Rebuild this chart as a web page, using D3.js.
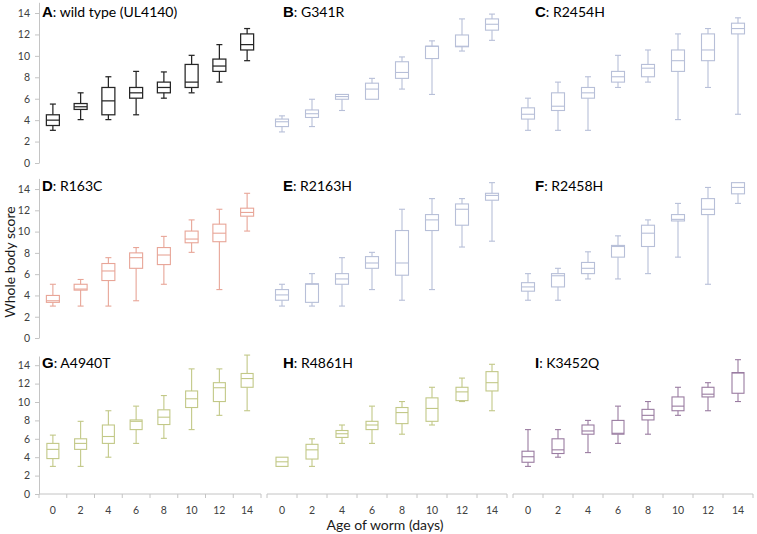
<!DOCTYPE html>
<html><head><meta charset="utf-8">
<script src="https://cdn.jsdelivr.net/npm/d3@7"></script>
<style>
html,body{margin:0;padding:0;background:#fff;}
svg{display:block;}
text{font-family:Lato,"Open Sans",sans-serif;}
</style></head>
<body><svg id="chart" width="757" height="534"></svg>
<script>
const days = [0, 2, 4, 6, 8, 10, 12, 14];
const yTicks = [0, 2, 4, 6, 8, 10, 12, 14];
const panelLetters = ["A", "B", "C", "D", "E", "F", "G", "H", "I"];
const panelNames = ["wild type (UL4140)", "G341R", "R2454H", "R163C", "R2163H", "R2458H", "A4940T", "R4861H", "K3452Q"];
const panelColors = ["#262626", "#b7bfd8", "#b7bfd8", "#e8a597", "#b7bfd8", "#b7bfd8", "#c2c887", "#c2c887", "#9a7ca1"];
// each entry: [lower whisker, Q1, median, Q3, upper whisker]
const statsA = [[3.05,3.5,4,4.5,5.5],[4.05,5,5.25,5.55,6.55],[4.05,4.5,5.8,7.05,8.05],[4.5,6.05,6.55,7.05,8.55],[6.05,6.55,7.05,7.55,8.5],[6.55,7.05,7.55,9.2,10.05],[7.55,8.55,9.05,9.7,11.05],[9.55,10.55,11.05,12.05,12.55]];
const statsB = [[2.9,3.4,3.85,4.1,4.4],[3.4,4.25,4.6,4.95,5.95],[4.9,5.95,6.2,6.4,6.4],[5.95,5.95,6.9,7.45,7.9],[6.9,7.9,8.45,9.45,9.9],[6.4,9.75,10.9,10.9,11.4],[10.45,10.85,10.9,11.95,13.45],[11.45,12.4,12.95,13.45,13.9]];
const statsC = [[3.05,4.1,4.55,5.15,6.05],[3.05,4.9,5.3,6.55,7.55],[3.05,6.05,6.55,7.05,8.05],[7.05,7.55,8.05,8.55,10.05],[7.55,8.05,8.85,9.2,10.55],[4.05,8.55,9.55,10.55,12.05],[7.05,9.55,10.55,12.05,12.55],[4.55,12.05,12.55,13.05,13.55]];
const statsD = [[3,3.35,3.5,4,5.05],[3,4.5,4.6,5.05,5.5],[3,5.4,6.3,7,7.55],[3.5,6.55,7.55,8,8.5],[5.05,6.9,7.8,8.5,9.55],[8.05,8.95,9.3,10.05,11.1],[4.55,9.05,9.85,10.7,12.1],[10.05,11.45,11.8,12.2,13.6]];
const statsE = [[3,3.55,4.05,4.55,5.05],[3,3.35,5.05,5.1,6.05],[3,5.05,5.55,6.05,7.55],[4.55,6.55,7.05,7.65,8.05],[3.55,5.9,7.05,10.1,12.1],[4.55,10.1,11.1,11.6,13.1],[8.55,10.6,12.1,12.6,13.1],[9.1,12.95,13.4,13.6,14.6]];
const statsF = [[3.55,4.4,4.8,5.2,6.05],[3.55,4.8,5.85,6.05,6.55],[5.55,6.05,6.55,7.1,8.1],[5.55,7.6,8.6,8.7,9.6],[6.05,8.6,9.85,10.6,11.1],[7.6,11,11.15,11.6,12.65],[5.05,11.6,12.1,13.1,14.15],[12.65,13.55,14.15,14.6,14.6]];
const statsG = [[3,3.85,4.85,5.5,6.4],[3,4.85,5.5,6,7.9],[4,5.5,6.25,7.5,9.05],[5.5,7,7.9,8.05,9.55],[6.05,7.55,8.35,9.15,10.7],[7,9.4,10.35,11.2,13.6],[8.55,10.05,11.55,12.1,13.6],[9.05,11.6,12.55,13.1,15.1]];
const statsH = [[3,3,3.5,4,4],[3,3.8,4.8,5.4,6],[5.5,6.15,6.55,6.9,7.5],[5.5,7,7.5,7.9,9.55],[6.5,7.65,8.85,9.4,10.05],[7.5,7.9,9.3,10.45,11.6],[10.05,10.15,11.1,11.6,12.6],[9.05,11.2,12.1,13.3,14.1]];
const statsI = [[3,3.45,4.05,4.65,7],[4,4.4,4.8,6,7],[4.5,6.5,6.85,7.5,8],[5.5,6.5,6.6,8,9.55],[6.5,8.05,8.55,9.2,10.05],[8.55,9.05,9.55,10.55,11.6],[9.05,10.55,10.85,11.6,12.1],[10.05,10.95,13.15,13.2,14.6]];
const allStats = [statsA, statsB, statsC, statsD, statsE, statsF, statsG, statsH, statsI];

const svg = d3.select("#chart");
const colRanges = [[39, 261], [267, 507], [513, 753]];
const rowRanges = [[163, 2.3], [338, 178.4], [494, 356]];
const boxW = [13, 13, 12];
const capW = 6;

for (let p = 0; p < 9; p++) {
  const r = Math.floor(p / 3), c = p % 3;
  const x = d3.scaleBand().domain(days).range(colRanges[c]).paddingInner(0).paddingOuter(0);
  const y = d3.scaleLinear().domain([0, 15]).range(rowRanges[r]);
  const g = svg.append("g");
  const col = panelColors[p];
  const sw = p === 0 ? 1.25 : 1.1;

  if (c === 0) {
    const ax = g.append("g").attr("transform", `translate(${colRanges[c][0]},0)`)
      .call(d3.axisLeft(y).tickValues(yTicks).tickSize(4).tickSizeOuter(0).tickPadding(5).tickFormat(d3.format("d")));
    ax.select(".domain").attr("stroke", "#c4c4c4");
    ax.selectAll(".tick line").attr("stroke", "#c4c4c4");
    ax.selectAll("text").attr("fill", "#404040").style("font-size", "10.5px").style("font-family", "Lato, sans-serif");
  }
  if (r === 2) {
    const y0 = y(0);
    g.append("line").attr("x1", x.range()[0]).attr("x2", x.range()[1]).attr("y1", y0).attr("y2", y0).attr("stroke", "#c4c4c4");
    const edges = days.map(d => x(d)).concat([x.range()[1]]);
    g.selectAll(".xt").data(edges).join("line").attr("x1", d => d).attr("x2", d => d)
      .attr("y1", y0).attr("y2", y0 + 4).attr("stroke", "#c4c4c4");
    g.selectAll(".xl").data(days).join("text").attr("x", d => x(d) + x.bandwidth() / 2)
      .attr("y", y0 + 20).attr("text-anchor", "middle").attr("fill", "#404040")
      .style("font-size", "10.5px").text(d => d);
  }

  const bw = boxW[r];
  const boxes = g.selectAll(".box").data(allStats[p].map((s, i) => ({ day: days[i], s })))
    .join("g").attr("transform", d => `translate(${x(d.day) + x.bandwidth() / 2},0)`);
  boxes.each(function (d) {
    const b = d3.select(this);
    const [lo, q1, md, q3, hi] = d.s;
    if (y(lo) - y(q1) > 0.5) {
      b.append("line").attr("x1", 0).attr("x2", 0).attr("y1", y(q1)).attr("y2", y(lo)).attr("stroke", col).attr("stroke-width", sw);
      b.append("line").attr("x1", -capW / 2).attr("x2", capW / 2).attr("y1", y(lo)).attr("y2", y(lo)).attr("stroke", col).attr("stroke-width", sw);
    }
    if (y(q3) - y(hi) > 0.5) {
      b.append("line").attr("x1", 0).attr("x2", 0).attr("y1", y(q3)).attr("y2", y(hi)).attr("stroke", col).attr("stroke-width", sw);
      b.append("line").attr("x1", -capW / 2).attr("x2", capW / 2).attr("y1", y(hi)).attr("y2", y(hi)).attr("stroke", col).attr("stroke-width", sw);
    }
    b.append("rect").attr("x", -bw / 2).attr("width", bw).attr("y", y(q3)).attr("height", y(q1) - y(q3))
      .attr("fill", "none").attr("stroke", col).attr("stroke-width", sw);
    b.append("line").attr("x1", -bw / 2).attr("x2", bw / 2).attr("y1", y(md)).attr("y2", y(md)).attr("stroke", col).attr("stroke-width", sw);
  });

  const titleX = c === 0 ? 42 : (c === 1 ? 283 : 535);
  const titleY = [17, 191, 368][r];
  const t = g.append("text").attr("x", titleX).attr("y", titleY).attr("fill", "#000");
  t.append("tspan").text(panelLetters[p]).style("font-family", "'Liberation Sans', Arial, sans-serif").style("font-weight", "bold").style("font-size", "15px");
  t.append("tspan").text(": " + panelNames[p]).style("font-size", "14px");
}

svg.append("text").attr("transform", "translate(15,262) rotate(-90)").attr("text-anchor", "middle")
  .style("font-size", "14px").attr("fill", "#1a1a1a").text("Whole body score");
svg.append("text").attr("x", 385).attr("y", 530).attr("text-anchor", "middle")
  .style("font-size", "14px").attr("fill", "#1a1a1a").text("Age of worm (days)");
</script></body></html>
